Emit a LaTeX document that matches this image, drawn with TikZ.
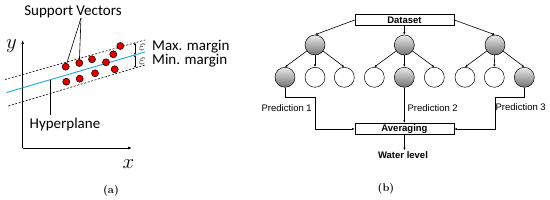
\documentclass[tikz,border=0pt]{standalone}
\usepackage{fontspec}
\usepackage{amsmath}
\usetikzlibrary{arrows.meta,calc,positioning}
\newfontfamily\carlito{Carlito}
\newfontfamily\arialsans{Liberation Sans}
\definecolor{svmcyan}{HTML}{1AA7DA}
\definecolor{dotred}{HTML}{E20000}

\begin{document}
\begin{tikzpicture}[
    x=1pt,y=-1pt,
    font=\carlito\fontsize{15}{16}\selectfont,
    svdot/.style={circle,draw=black!85!red,fill=dotred,line width=0.6pt,
      minimum size=7pt,inner sep=0pt},
    marginline/.style={line width=0.6pt,dash pattern=on 2pt off 1.6pt},
    epslabel/.style={inner sep=0pt,font=\fontsize{15}{15}\selectfont},
    treenode/.style={circle,draw,line width=0.5pt,minimum size=20pt,
      inner sep=0pt},
    chosen/.style={treenode,top color=black!8,bottom color=black!55},
    flowbox/.style={draw,line width=0.6pt,minimum width=99pt,
      minimum height=11.6pt,inner sep=0pt,
      font=\arialsans\bfseries\fontsize{9.5}{10}\selectfont},
    flowlabel/.style={font=\arialsans\fontsize{9.5}{10}\selectfont},
    tip/.style={-{Latex[length=2.6pt,width=2.2pt]},line width=0.6pt}
  ]
    \useasboundingbox (0,0) rectangle (550,200);
    \coordinate (origin) at (22.7,148);
    \draw[-{Latex[length=4pt,width=3pt]},line width=0.8pt]
      (origin) -- (22.7,40) coordinate (ytop);
    \draw[-{Latex[length=4pt,width=3pt]},line width=0.8pt]
      (origin) -- (132,148) coordinate (xright);
    \node[font=\fontsize{20}{20}\selectfont] (ylab) at (11.5,46) {$y$};
    \node[font=\fontsize{20}{20}\selectfont] (xlab) at (128.3,164) {$x$};
    \draw[marginline] (5,79.5) -- (145,40);
    \draw[svmcyan,line width=0.9pt] (6.5,92.5) -- (145,52);
    \draw[marginline] (8.3,106) -- (145,65);
    \foreach \px/\py [count=\i] in {65.7/66.7,79.3/63,92/59.3,106/62.3,
        113.3/54.3,120.3/46,66.3/81.7,79.7/78.7,95/73.3,114.7/69.3}
      \node[svdot] (d\i) at (\px,\py) {};
    \coordinate (etop) at (135,42.8);
    \coordinate (emid) at (135,54.9);
    \coordinate (ebot) at (135,67.9);
    \draw[{Latex[length=2pt,width=2pt]}-{Latex[length=2pt,width=2pt]},
      line width=0.5pt] (etop) -- (emid);
    \draw[{Latex[length=2pt,width=2pt]}-{Latex[length=2pt,width=2pt]},
      line width=0.5pt] (emid) -- (ebot);
    \node[epslabel] (eps1) at (142.5,47) {$\varepsilon$};
    \node[epslabel] (eps2) at (142.5,61) {$\varepsilon$};
    \node[anchor=west,inner sep=0pt] (maxm) at (152,47) {Max. margin};
    \node[anchor=west,inner sep=0pt] (minm) at (152,61) {Min. margin};
    \node (svlabel) at (73,11.5) {Support Vectors};
    \coordinate (svtip) at (81,18);
    \draw[line width=0.6pt] (svtip) -- (d1);
    \draw[line width=0.6pt] (svtip) -- (d2);
    \node (hyplabel) at (65,125) {Hyperplane};
    \coordinate (hypfoot) at (50,80);
    \draw[line width=0.6pt] (hypfoot) -- (hypfoot |- hyplabel.north);
    \node[font=\rmfamily\bfseries\fontsize{11}{12}\selectfont] (capa)
      at (111,191) {(a)};

    \node[flowbox] (dataset) at (404.5,20) {Dataset};
    \node[chosen] (t1) at (315,45) {};
    \node[chosen] (t2) at (404.3,45) {};
    \node[chosen] (t3) at (495,45) {};
    \foreach \lx/\ls [count=\i] in {285/chosen,315/treenode,344.3/treenode,
        374.3/treenode,404.3/chosen,434.3/treenode,465/treenode,
        494.3/treenode,524.3/chosen}
      \node[\ls] (leaf\i) at (\lx,77.3) {};
    \draw[tip] (dataset.west) -- (t1.north);
    \draw[tip] (dataset.south -| t2) -- (t2.north);
    \draw[tip] (dataset.east) -- (t3.north);
    \foreach \p/\a/\b/\c in {t1/1/2/3,t2/4/5/6,t3/7/8/9} {
      \draw[tip] (\p) -- (leaf\a.north);
      \draw[tip] (\p) -- (leaf\b.north);
      \draw[tip] (\p) -- (leaf\c.north);
    }
    \node[flowbox] (averaging) at (404.5,129) {Averaging};
    \draw[tip] (leaf1.south) |- ++(30,10) |- (averaging.west);
    \draw[tip] (leaf5.south) -- (leaf5.south |- averaging.north);
    \draw[tip] (leaf9.south) |- ++(-29.3,10) |- (averaging.east);
    \node[flowlabel] (pred1) at (286.7,108.3) {Prediction 1};
    \node[flowlabel] (pred2) at (432.7,108) {Prediction 2};
    \node[flowlabel] (pred3) at (520.7,106.7) {Prediction 3};
    \node[flowlabel,font=\arialsans\bfseries\fontsize{9.5}{10}\selectfont,
      inner sep=1.5pt] (water) at (403,155.5) {Water level};
    \draw[tip] (averaging.south) -- (averaging.south |- water.north);
    \node[font=\rmfamily\bfseries\fontsize{11}{12}\selectfont] (capb)
      at (386,189) {(b)};
\end{tikzpicture}
\end{document}
